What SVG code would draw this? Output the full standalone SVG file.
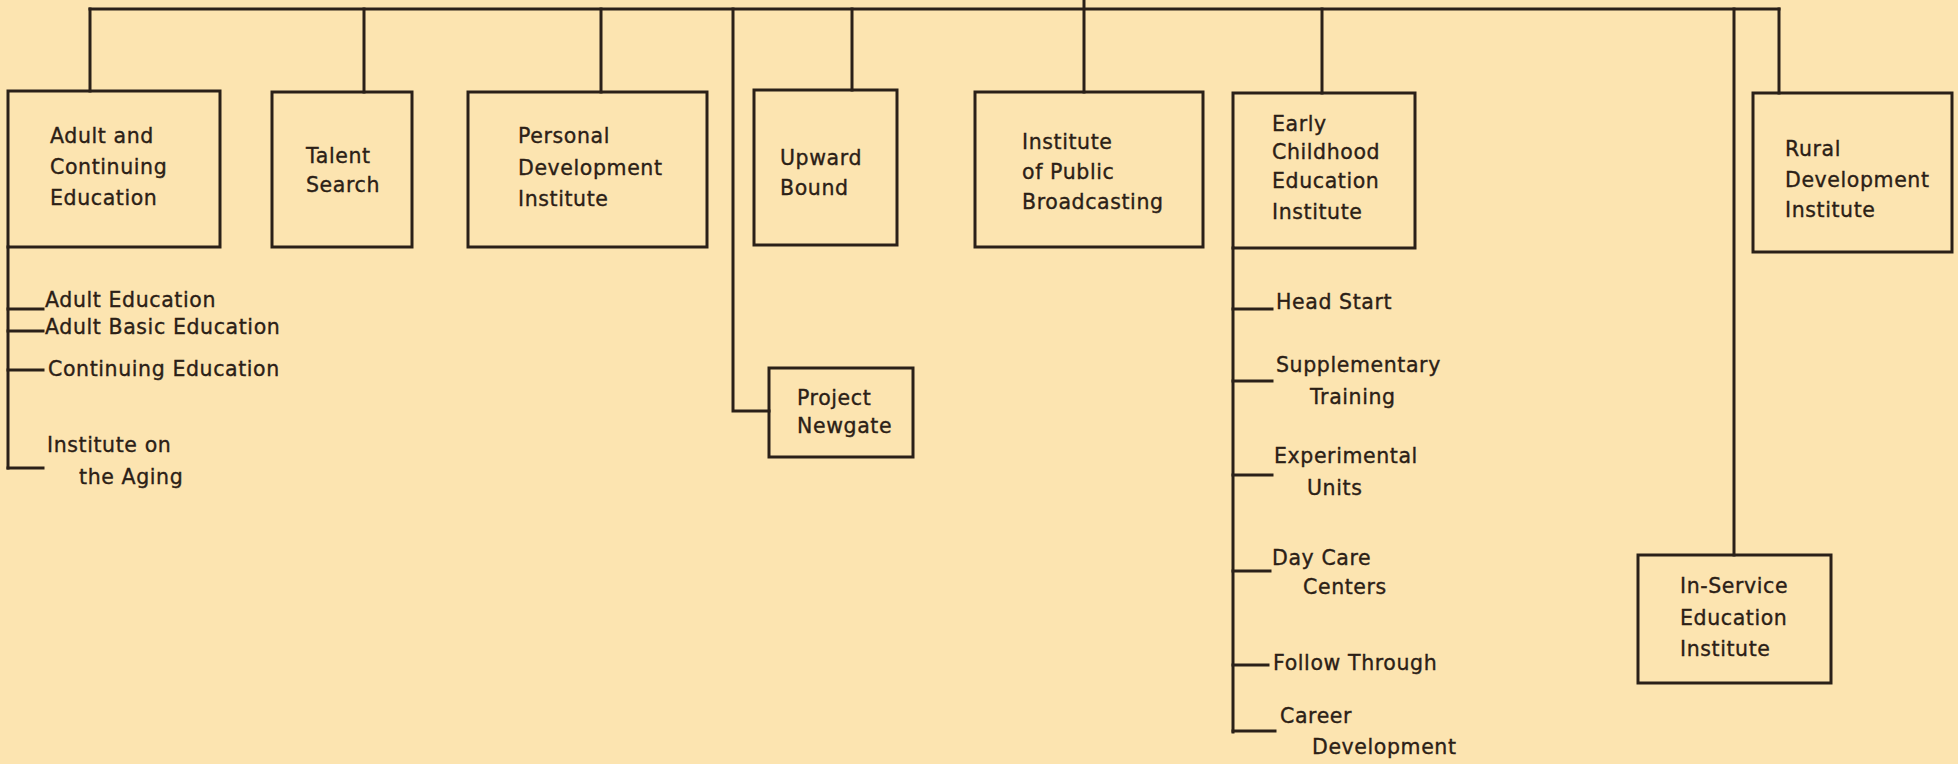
<svg xmlns="http://www.w3.org/2000/svg" width="1958" height="764" viewBox="0 0 1958 764">
<style>
.bg{fill:#fce4b0}
.box{fill:none;stroke:#2a2018;stroke-width:3}
.ln{fill:none;stroke:#2a2018;stroke-width:3;stroke-linecap:square}
text{font-family:"DejaVu Sans","Liberation Sans",sans-serif;font-size:20.5px;letter-spacing:0.6px;fill:#2b2016;stroke:#2b2016;stroke-width:0.35px}
</style>
<rect class="bg" x="0" y="0" width="1958" height="764"/>
<g id="connectors">
<path class="ln" d="M90,9 H1779"/>
<path class="ln" d="M1084,0 V92"/>
<path class="ln" d="M90,9 V91"/>
<path class="ln" d="M364,9 V92"/>
<path class="ln" d="M601,9 V92"/>
<path class="ln" d="M733,9 V411 H769"/>
<path class="ln" d="M852,9 V90"/>
<path class="ln" d="M1322,9 V93"/>
<path class="ln" d="M1734,9 V555"/>
<path class="ln" d="M1779,9 V93"/>
<path class="ln" d="M8,247 V468"/>
<path class="ln" d="M8,309 H43 M8,331 H43 M8,370 H43 M8,468 H43"/>
<path class="ln" d="M1233,248 V732"/>
<path class="ln" d="M1233,309 H1272 M1233,381 H1272 M1233,475 H1272 M1233,571 H1270 M1233,665 H1268 M1233,731 H1275"/>
</g>
<g id="adult-continuing">
<rect class="box" x="8" y="91" width="212" height="156"/>
<text x="50" y="143">Adult and</text>
<text x="50" y="174">Continuing</text>
<text x="50" y="205">Education</text>
</g>
<g id="talent-search">
<rect class="box" x="272" y="92" width="140" height="155"/>
<text x="306" y="163">Talent</text>
<text x="306" y="192">Search</text>
</g>
<g id="personal-development">
<rect class="box" x="468" y="92" width="239" height="155"/>
<text x="518" y="143">Personal</text>
<text x="518" y="175">Development</text>
<text x="518" y="206">Institute</text>
</g>
<g id="upward-bound">
<rect class="box" x="754" y="90" width="143" height="155"/>
<text x="780" y="165">Upward</text>
<text x="780" y="195">Bound</text>
</g>
<g id="public-broadcasting">
<rect class="box" x="975" y="92" width="228" height="155"/>
<text x="1022" y="149">Institute</text>
<text x="1022" y="179">of Public</text>
<text x="1022" y="209">Broadcasting</text>
</g>
<g id="early-childhood">
<rect class="box" x="1233" y="93" width="182" height="155"/>
<text x="1272" y="131">Early</text>
<text x="1272" y="159">Childhood</text>
<text x="1272" y="188">Education</text>
<text x="1272" y="219">Institute</text>
</g>
<g id="rural-development">
<rect class="box" x="1753" y="93" width="199" height="159"/>
<text x="1785" y="156">Rural</text>
<text x="1785" y="187">Development</text>
<text x="1785" y="217">Institute</text>
</g>
<g id="project-newgate">
<rect class="box" x="769" y="368" width="144" height="89"/>
<text x="797" y="405">Project</text>
<text x="797" y="433">Newgate</text>
</g>
<g id="in-service">
<rect class="box" x="1638" y="555" width="193" height="128"/>
<text x="1680" y="593">In-Service</text>
<text x="1680" y="625">Education</text>
<text x="1680" y="656">Institute</text>
</g>
<g id="adult-sub">
<text x="45" y="307">Adult Education</text>
<text x="45" y="334">Adult Basic Education</text>
<text x="48" y="376">Continuing Education</text>
<text x="47" y="452">Institute on</text>
<text x="79" y="484">the Aging</text>
</g>
<g id="early-sub">
<text x="1276" y="309">Head Start</text>
<text x="1276" y="372">Supplementary</text>
<text x="1310" y="404">Training</text>
<text x="1274" y="463">Experimental</text>
<text x="1307" y="495">Units</text>
<text x="1272" y="565">Day Care</text>
<text x="1303" y="594">Centers</text>
<text x="1273" y="670">Follow Through</text>
<text x="1280" y="723">Career</text>
<text x="1312" y="754">Development</text>
</g>
</svg>
